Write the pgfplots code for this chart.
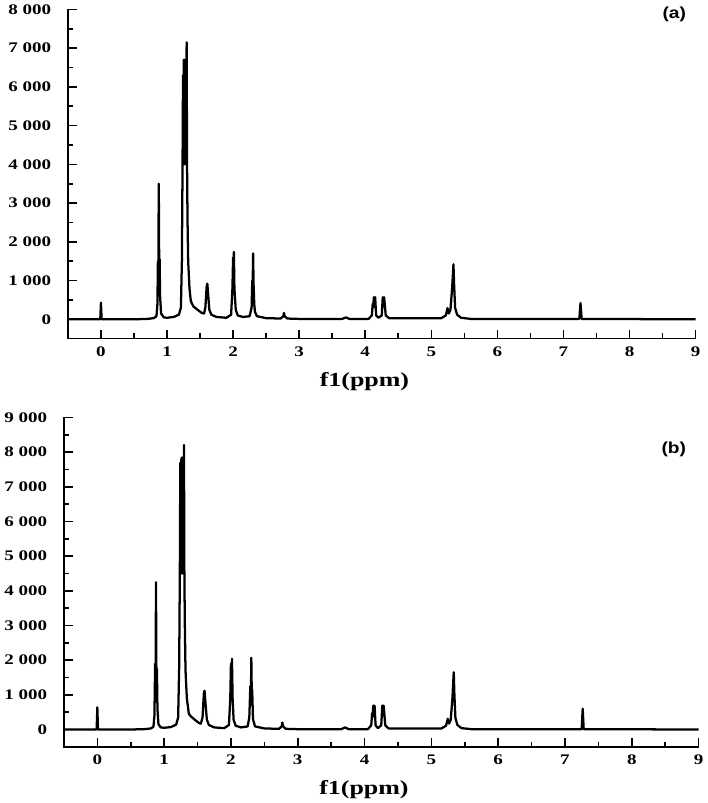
\documentclass[border=0pt]{standalone}
\usepackage{fontspec}
\setmainfont{Liberation Serif}[FakeStretch=1.3]
\newfontfamily\labfont{Liberation Sans}[FakeStretch=1.2]
\usepackage{pgfplots}
\usepackage{pgfplotstable}
\pgfplotsset{compat=1.18}

% spectrum (a)
\pgfplotstableread{
x y
-0.5 0
-0.02 0
-0.01 10
0.00 430
0.01 10
0.02 0
0.5 0
0.7 10
0.8 30
0.84 80
0.855 400
0.862 1500
0.868 900
0.875 3500
0.882 1300
0.888 1550
0.895 600
0.91 150
0.95 50
1.0 40
1.1 60
1.18 120
1.21 300
1.225 1500
1.235 4000
1.242 6300
1.248 4000
1.255 6700
1.26 4000
1.265 6700
1.27 4100
1.275 6200
1.28 4000
1.285 6500
1.29 4000
1.297 7150
1.303 4000
1.31 2600
1.32 1500
1.34 800
1.36 470
1.40 330
1.46 250
1.52 170
1.56 150
1.58 300
1.60 850
1.61 920
1.62 700
1.64 250
1.67 120
1.75 60
1.9 40
1.97 120
1.99 800
2.00 1600
2.005 1200
2.012 1740
2.02 800
2.04 250
2.07 100
2.15 60
2.25 80
2.28 300
2.29 1000
2.295 700
2.303 1700
2.31 900
2.32 400
2.33 200
2.36 80
2.5 30
2.72 20
2.76 80
2.77 165
2.78 80
2.82 20
3.0 10
3.65 10
3.71 50
3.76 10
4.05 10
4.10 100
4.113 400
4.12 300
4.13 570
4.14 350
4.15 570
4.165 100
4.2 40
4.25 100
4.265 570
4.275 350
4.285 570
4.295 400
4.31 100
4.36 30
5.15 30
5.22 100
5.245 290
5.265 150
5.29 250
5.315 800
5.335 1420
5.345 900
5.36 300
5.39 120
5.45 40
5.6 10
7.24 10
7.258 420
7.275 10
9 0
}\specA

% spectrum (b)
\pgfplotstableread{
x y
-0.5 0
-0.02 0
-0.01 10
0.00 640
0.01 10
0.02 0
0.5 0
0.7 10
0.8 30
0.84 80
0.855 400
0.865 1900
0.872 900
0.878 4250
0.885 1300
0.892 1750
0.90 600
0.915 150
0.95 60
1.0 50
1.1 70
1.18 140
1.21 350
1.225 1800
1.235 4500
1.242 7700
1.248 4500
1.255 7800
1.26 4500
1.265 7850
1.27 4600
1.275 7200
1.28 4500
1.285 7400
1.29 4500
1.297 8210
1.303 4500
1.31 3000
1.32 1700
1.34 900
1.37 450
1.40 380
1.46 280
1.52 190
1.55 170
1.575 350
1.595 1050
1.605 1120
1.615 850
1.64 280
1.67 130
1.75 60
1.9 40
1.97 130
1.99 900
2.00 1900
2.007 1300
2.015 2040
2.025 900
2.04 280
2.07 110
2.15 60
2.25 90
2.275 350
2.29 1250
2.298 700
2.305 2070
2.312 1000
2.318 1150
2.33 300
2.36 90
2.5 30
2.72 20
2.76 90
2.77 200
2.78 90
2.82 20
3.0 10
3.65 10
3.71 60
3.76 10
4.05 10
4.10 120
4.113 470
4.12 350
4.13 690
4.14 420
4.15 690
4.165 120
4.2 40
4.25 120
4.265 690
4.275 420
4.285 690
4.295 470
4.31 120
4.36 30
5.15 30
5.22 110
5.245 310
5.265 170
5.29 280
5.315 900
5.335 1650
5.345 1000
5.36 330
5.39 130
5.45 40
5.6 10
7.25 10
7.265 600
7.28 10
9 0
}\specB

\pgfplotsset{nmr/.style={
  scale only axis,
  height=247.5pt,
  xmin=-0.5, xmax=9, ymin=-500,
  axis line style={draw=none},
  tick align=inside,
  xtick pos=bottom, ytick pos=left,
  major tick length=6.5pt,
  minor tick length=4pt,
  every tick/.style={line width=1.2pt, black},
  minor tick num=1,
  xtick={0,1,...,9},
  scaled y ticks=false,
  ticklabel style={font=\fontsize{11}{13}\selectfont\bfseries},
  /pgf/number format/assume math mode=true,
  /pgf/number format/1000 sep={\ },
  yticklabel style={xshift=-9pt},
  xticklabel style={yshift=-2.5pt},
  xlabel={f1(ppm)},
  xlabel style={font=\fontsize{15}{17}\selectfont\bfseries,
    at={(axis description cs:0.5,0)}, anchor=center, yshift=-32pt, xshift=-13pt},
  clip=false,
}}

\begin{document}
\begin{tikzpicture}
\begin{axis}[nmr, width=471.75pt, ymax=8000, ytick={0,1000,...,8000},
  at={(0,0)}, anchor=south west]
\addplot[black, line width=1.7pt, line join=round, no marks] table {\specA};
\draw[line width=1.2pt, line cap=rect] (rel axis cs:0,1) -- (rel axis cs:0,0) -- (rel axis cs:1,0);
\node[font=\labfont\fontsize{12}{14}\selectfont\bfseries] at (rel axis cs:0.966,0.986) {(a)};
\end{axis}
\begin{axis}[nmr, width=477pt, ymax=9000, ytick={0,1000,...,9000},
  at={(-3pt,-306.75pt)}, anchor=south west]
\addplot[black, line width=1.7pt, line join=round, no marks] table {\specB};
\draw[line width=1.2pt, line cap=rect] (rel axis cs:0,1) -- (rel axis cs:0,0) -- (rel axis cs:1,0);
\node[font=\labfont\fontsize{12}{14}\selectfont\bfseries] at (rel axis cs:0.961,0.903) {(b)};
\end{axis}
\end{tikzpicture}
\end{document}
